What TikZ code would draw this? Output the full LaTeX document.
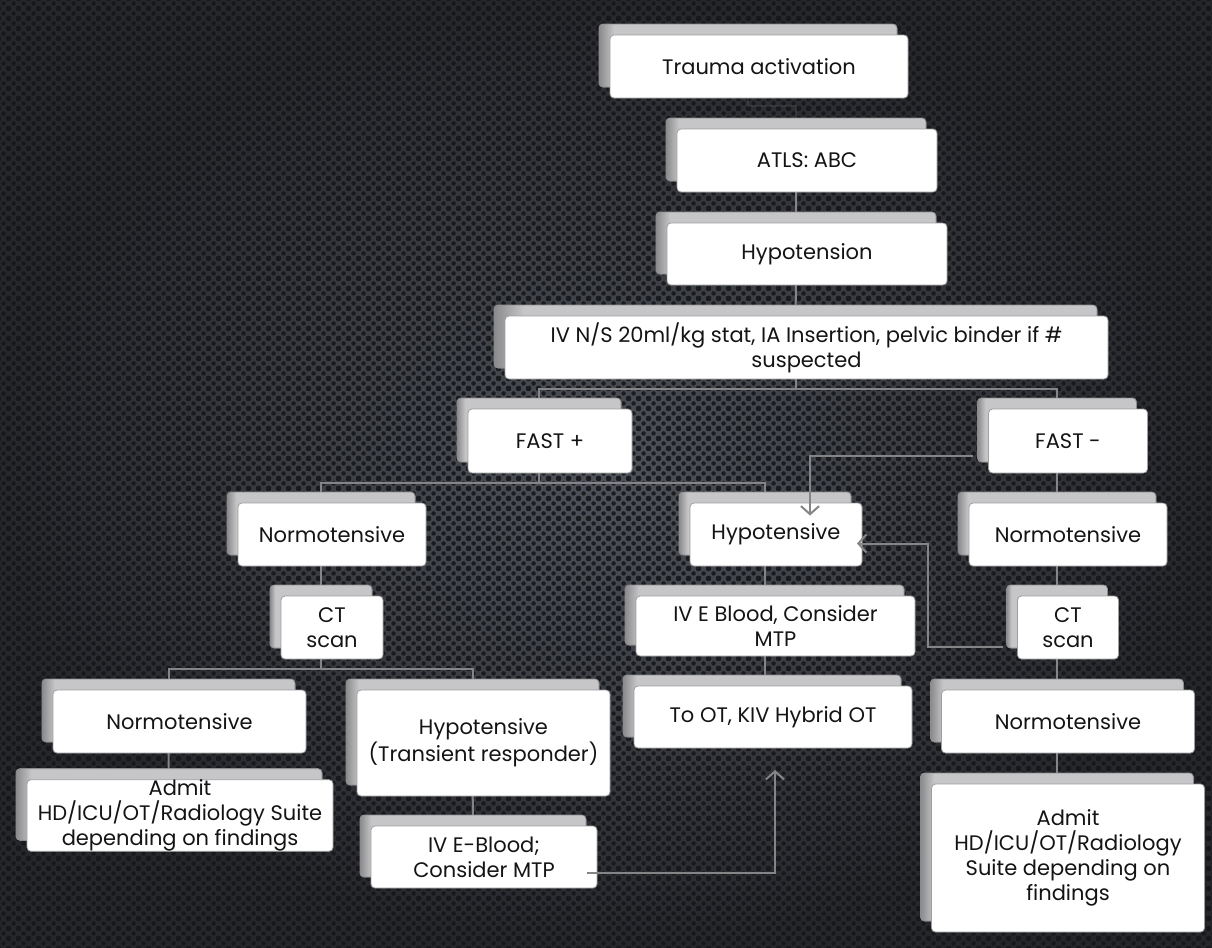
\documentclass[tikz,border=0pt]{standalone}
\usepackage{fontspec}
\setmainfont{Poppins}
\usetikzlibrary{shadows,calc,arrows.meta,patterns.meta}
\definecolor{bgin}{HTML}{50535B}
\definecolor{bgout}{HTML}{26272B}
\definecolor{dotc}{HTML}{16171A}
\definecolor{linkc}{HTML}{858587}
\definecolor{boxline}{HTML}{9E9EA0}
\definecolor{shadc}{HTML}{C6C6C8}
\definecolor{shadl}{HTML}{8A8A8C}
\definecolor{shadline}{HTML}{8C8C8E}
\definecolor{txt}{HTML}{141414}
\pgfdeclarehorizontalshading{shadsh}{100bp}{color(0bp)=(shadl); color(25bp)=(shadl); color(27.5bp)=(shadc); color(100bp)=(shadc)}
\pgfdeclarelayer{bg}
\pgfdeclarelayer{lines}
\pgfsetlayers{bg,lines,main}
\tikzdeclarepattern{
	name=bgdots, type=uncolored,
	bottom left={(0pt,0pt)}, top right={(5pt,5pt)},
	tile size={(5pt,5pt)},
	code={
		\fill (0pt,0pt) circle (1.25pt);
		\fill (5pt,0pt) circle (1.25pt);
		\fill (0pt,5pt) circle (1.25pt);
		\fill (5pt,5pt) circle (1.25pt);
		\fill (2.5pt,2.5pt) circle (1.25pt);
	}
}
\tikzset{
	box/.style 2 args={rectangle,rounded corners=2pt,draw=boxline,fill=white,text=txt,align=center,
		font=\fontsize{10.5}{12.5}\selectfont,inner sep=0pt,minimum width=#1,minimum height=#2,
		copy shadow={shadow xshift=-5.5pt,shadow yshift=5.5pt,shading=shadsh,draw=shadline}},
	link/.style={draw=linkc,line width=1pt},
	arr/.style={link,-{Straight Barb[length=4pt,width=9pt,line width=1pt]}},
	offs/.style={xshift=-5.5pt}
}
\begin{document}
\begin{tikzpicture}[x=0.5pt,y=-0.5pt]
	\useasboundingbox (0,0) rectangle (1212,948);
	\begin{pgfonlayer}{bg}
		\shade[inner color=bgin,outer color=bgout] (0,0) rectangle (1212,948);
		\fill[pattern=bgdots,pattern color=dotc,opacity=.9] (0,0) rectangle (1212,948);
	\end{pgfonlayer}

	\node [box={149pt}{31.5pt}] (trauma) at (759,66.5) {Trauma activation};
	\node [box={130pt}{31.5pt}] (atls) at (807,160.5) {ATLS: ABC};
	\node [box={140pt}{31pt}] (hypo) at (807,254) {Hypotension};
	\node [box={301.5pt}{31.5pt}] (ivns) at (806.5,347.5) {IV N/S 20ml/kg stat, IA Insertion, pelvic binder if \#\\suspected};

	\node [box={82pt}{32pt}] (fastp) at (550,441) {FAST +};
	\node [box={79.5pt}{32pt}] (fastm) at (1068,441) {FAST -};

	\node [box={94pt}{31.5pt}] (normL) at (332,534.5) {Normotensive};
	\node [box={86pt}{31.5pt}] (hypom) at (776,534.5) {Hypotensive};
	\node [box={99pt}{31.5pt}] (normR) at (1068,534.5) {Normotensive};

	\node [box={51pt}{31.5pt}] (ctL) at (332,627.5) {CT\\scan};
	\node [box={139.5pt}{30pt}] (ivebM) at (775.5,626) {IV E Blood, Consider\\MTP};
	\node [box={50.5pt}{31.5pt}] (ctR) at (1068,627.5) {CT\\scan};

	\node [box={126.5pt}{31.5pt}] (normBL) at (179.5,721.5) {Normotensive};
	\node [box={126.5pt}{53pt}] (hypoTR) at (483.5,743) {Hypotensive\\(Transient responder)};
	\node [box={139pt}{31pt}] (toot) at (773,717) {To OT, KIV Hybrid OT};
	\node [box={126.5pt}{31.5pt}] (normBR) at (1068,721.5) {Normotensive};

	\node [box={153pt}{32.5pt}] (admitL) at (180,815.5) {Admit\\HD/ICU/OT/Radiology Suite\\depending on findings};
	\node [box={113pt}{31pt}] (ivebL) at (484,857) {IV E-Blood;\\Consider MTP};
	\node [box={136.5pt}{74pt}] (admitR) at (1068,858) {Admit\\HD/ICU/OT/Radiology\\Suite depending on\\findings};

	\begin{pgfonlayer}{lines}
		\draw [link,opacity=.15] ([offs]trauma.center) -- ++(0,39) -| ([offs]atls.center);
		\draw [link] ([offs]atls.center) -- ([offs]hypo.center) -- ([offs]ivns.center);
		\draw [link] ([offs]ivns.center) -- ++(0,41) -| ([offs]fastp.center);
		\draw [link] ([offs]ivns.center) -- ++(0,41) -| ([offs]fastm.center);
		\draw [link] ([offs]fastp.center) -- ++(0,42) -| ([offs]normL.center);
		\draw [link] ([offs]fastp.center) -- ++(0,42) -| ([offs]hypom.center);
		\draw [link] ([offs]fastm.center) -- ([offs]admitR.center);
		\draw [link] ([offs]hypom.center) -- ++(0,183);
		\draw [link] ([offs]normL.center) -- ([offs]ctL.center);
		\draw [link] ([offs]ctL.center) -- ++(0,41.5) -| ([offs]normBL.center);
		\draw [link] ([offs]ctL.center) -- ++(0,41.5) -| ([offs]hypoTR.center);
		\draw [link] ([offs]normBL.center) -- ([offs]admitL.center);
		\draw [link] ([offs]hypoTR.center) -- ([offs]ivebL.center);
	\end{pgfonlayer}

	\draw [arr] ($(fastm)+(-95,15)$) -| ($(hypom)+(34,-19)$);
	\draw [arr] ($(ctR)+(-65,19)$) -- ++(-75,0) |- ($(hypom)+(81,9)$);
	\draw [arr] ($(ivebL)+(103,16)$) -| ($(toot)+(2,53)$);
\end{tikzpicture}
\end{document}
